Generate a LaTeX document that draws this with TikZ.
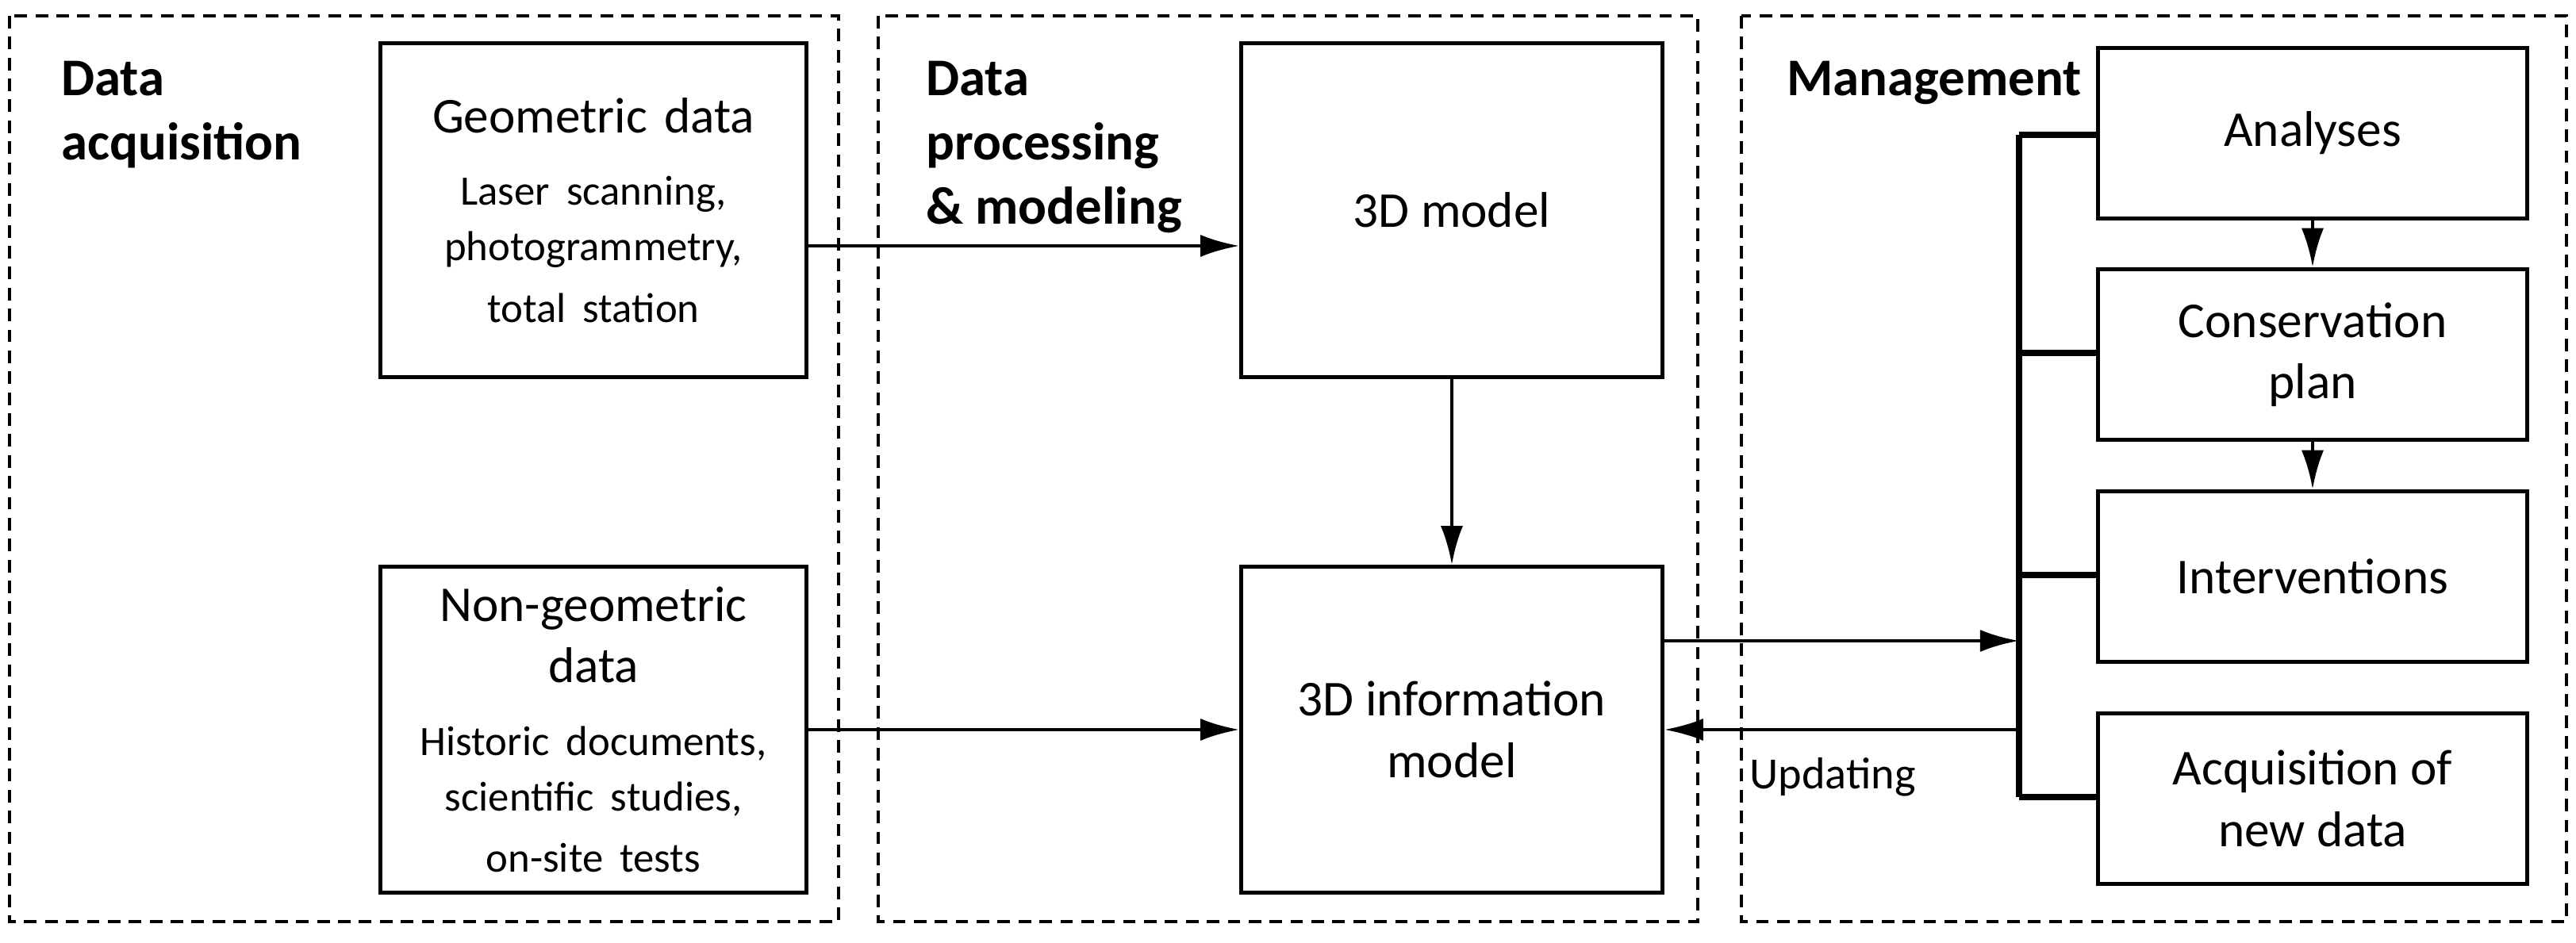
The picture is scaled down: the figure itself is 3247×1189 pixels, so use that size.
\documentclass[tikz,border=0pt]{standalone}
\usepackage{fontspec}
\setmainfont{Carlito}
\usetikzlibrary{arrows.meta}
\begin{document}
\begin{tikzpicture}[x=0.01cm,y=-0.01cm,
  grp/.style={draw,line width=1.3pt,dash pattern=on 4.5pt off 3pt},
  box/.style={draw,line width=1.4pt,align=center,font=\fontsize{18}{22}\selectfont},
  ttl/.style={font=\bfseries\fontsize{19}{23}\selectfont,align=left,anchor=north west},
  ar/.style={line width=1.4pt,-{Latex[length=14pt,width=8pt]}},
  ln/.style={line width=2.2pt}]
\useasboundingbox (0,0) rectangle (3247,1189);
\draw[grp] (12,20) rectangle (1057,1162);
\draw[grp] (1107,20) rectangle (2140,1162);
\draw[grp] (2195,20) rectangle (3235,1162);
\node[ttl] (t1) at (65,65) {Data\\acquisition};
\node[ttl] (t2) at (1155,65) {Data\\processing\\\& modeling};
\node[ttl] (t3) at (2240,65) {Management};

\node[box,text width=4.9cm,minimum width=5.37cm,minimum height=4.2cm] (geo) at (748,265) {Geometric data\\[6pt]{\fontsize{15}{20}\selectfont Laser scanning,\\photogrammetry,\\total station}\\[24pt]};
\node[box,text width=4.9cm,minimum width=5.37cm,minimum height=4.1cm] (ngeo) at (748,920) {Non-geometric\\data\\[6pt]{\fontsize{15}{20}\selectfont Historic documents,\\scientific studies,\\on-site tests}};
\node[box,minimum width=5.3cm,minimum height=4.2cm] (m3d) at (1830,265) {3D model};
\node[box,minimum width=5.3cm,minimum height=4.1cm] (inf) at (1830,920) {3D information\\model};
\node[box,minimum width=5.4cm,minimum height=2.15cm] (an) at (2915,168) {Analyses};
\node[box,minimum width=5.4cm,minimum height=2.15cm] (cp) at (2915,447) {Conservation\\plan};
\node[box,minimum width=5.4cm,minimum height=2.15cm] (iv) at (2915,727) {Interventions};
\node[box,minimum width=5.4cm,minimum height=2.15cm] (aq) at (2915,1007) {Acquisition of\\new data};

\coordinate (bt) at (2545,170);
\coordinate (bb) at (2545,1005);
\draw[ln] (bt) -- (bb);
\draw[ln] (bt) -- (an.west|-bt);
\draw[ln] (2545,445) -- (cp.west|-0,445);
\draw[ln] (2545,725) -- (iv.west|-0,725);
\draw[ln] (bb) -- (aq.west|-bb);

\draw[ar] (geo.east|-0,310) -- (m3d.west|-0,310);
\draw[ar] (ngeo.east|-0,920) -- (inf.west|-0,920);
\draw[ar] (m3d) -- (inf);
\draw[ar] (inf.east|-0,808) -- (2545,808);
\draw[ar] (2545,920) -- (inf.east|-0,920);
\node[font=\fontsize{16}{20}\selectfont] (up) at (2310,980) {Updating};
\draw[ar] (an) -- (cp);
\draw[ar] (cp) -- (iv);
\end{tikzpicture}
\end{document}
